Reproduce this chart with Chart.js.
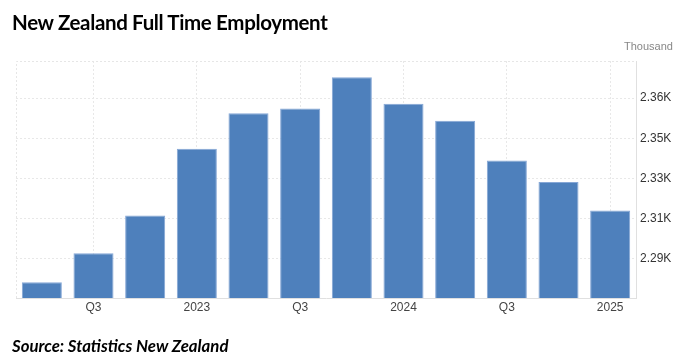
<!DOCTYPE html>
<html>
<head>
<meta charset="utf-8">
<script src="https://cdn.jsdelivr.net/npm/chart.js@4"></script>
<style>
    body{ margin:0; background:#fff; }
    #quadro{ position:relative; width:682px; height:357px; overflow:hidden; }
    #graf-emprego{ position:absolute; left:0; top:0; }
    .texto{ position:absolute; white-space:nowrap; line-height:1; }
    #titulo{ left:12px; top:10px; font:700 20.5px Lato, "Noto Sans", sans-serif; letter-spacing:-0.35px; color:#000; }
    #unidade{ left:624px; top:40px; font:11px "Liberation Sans", Arial, sans-serif; color:#888; }
    #fonte{ left:12px; top:335px; font:italic 700 16.8px Lato, "Noto Sans", sans-serif; color:#000; }
</style>
</head>
<body>
<div id="quadro">
    <canvas id="graf-emprego" width="682" height="357"></canvas>
    <div class="texto" id="titulo">New Zealand Full Time Employment</div>
    <div class="texto" id="unidade">Thousand</div>
    <div class="texto" id="fonte">Source: Statistics New Zealand</div>
</div>
<script>
// trimestres (categorias do eixo x)
var trimestres = ['2022 Q2','2022 Q3','2022 Q4','2023 Q1','2023 Q2','2023 Q3','2023 Q4','2024 Q1','2024 Q2','2024 Q3','2024 Q4','2025 Q1']
// rotulos mostrados no eixo x
var rotulosX = ['','Q3','','2023','','Q3','','2024','','Q3','','2025']
// emprego em tempo integral (milhares)
var empregados = [2277.0, 2290.7, 2308.5, 2340.0, 2356.8, 2359.1, 2373.8, 2361.3, 2353.3, 2334.5, 2324.3, 2310.8]
// ticks do eixo y
var ticksY = [2288, 2307, 2326, 2345, 2364]
var rotulosY = ['2.29K','2.31K','2.33K','2.35K','2.36K']

/**
 * @description: desenha a borda pontilhada superior e esquerda da area do grafico
*/
var bordaArea = {
    id: 'bordaArea',
    beforeDatasetsDraw: function(chart){
        var ctx = chart.ctx
        var a = chart.chartArea
        ctx.save()
        ctx.strokeStyle = '#e6e6e6'
        ctx.lineWidth = 1
        ctx.setLineDash([2,2])
        ctx.beginPath()
        ctx.moveTo(a.left + 0.5, a.bottom)
        ctx.lineTo(a.left + 0.5, a.top + 0.5)
        ctx.lineTo(a.right, a.top + 0.5)
        ctx.stroke()
        ctx.restore()
    }
}

/**
 * @description: gera o grafico de barras
*/
function gerarGraficoEmprego(){
    try{
        new Chart(
            document.getElementById('graf-emprego').getContext('2d'),
            {
                type: 'bar',
                data: {
                    labels: trimestres,
                    datasets: [
                        {
                            label: 'Full Time Employment',
                            data: empregados,
                            backgroundColor: '#4e80bc',
                            borderColor: '#86a7d6',
                            borderWidth: 1,
                            barPercentage: 0.775,
                            categoryPercentage: 1
                        }
                    ]
                },
                options: {
                    responsive: false,
                    animation: false,
                    layout: { padding: { left: 16, top: 61, right: 0, bottom: 0 } },
                    plugins: {
                        legend: { display: false },
                        tooltip: { enabled: false }
                    },
                    scales: {
                        x: {
                            offset: true,
                            afterFit: function(s){ s.height = 59 },
                            grid: {
                                offset: false,
                                drawTicks: false,
                                color: function(c){ return c.index % 2 === 1 ? '#e8e8e8' : 'rgba(0,0,0,0)' }
                            },
                            border: { display: true, color: '#e0e0e0', dash: [2,2] },
                            ticks: {
                                autoSkip: false,
                                maxRotation: 0,
                                padding: 2,
                                color: '#444',
                                font: { family: '"Liberation Sans", Arial, sans-serif', size: 12 },
                                callback: function(v, i){ return rotulosX[i] }
                            }
                        },
                        y: {
                            position: 'right',
                            min: 2269.5,
                            max: 2381.5,
                            afterFit: function(s){ s.width = 46 },
                            afterBuildTicks: function(s){
                                s.ticks = ticksY.map(function(v){ return { value: v } })
                            },
                            grid: { color: '#e8e8e8', drawTicks: false },
                            border: { display: true, color: '#e0e0e0', dash: [2,2] },
                            ticks: {
                                padding: 4,
                                color: '#333',
                                font: { family: '"Liberation Sans", Arial, sans-serif', size: 12 },
                                callback: function(v, i){ return rotulosY[i] }
                            }
                        }
                    }
                },
                plugins: [bordaArea]
            }
        )
    }catch(e){ console.error(e) }
}

gerarGraficoEmprego()
</script>
</body>
</html>
